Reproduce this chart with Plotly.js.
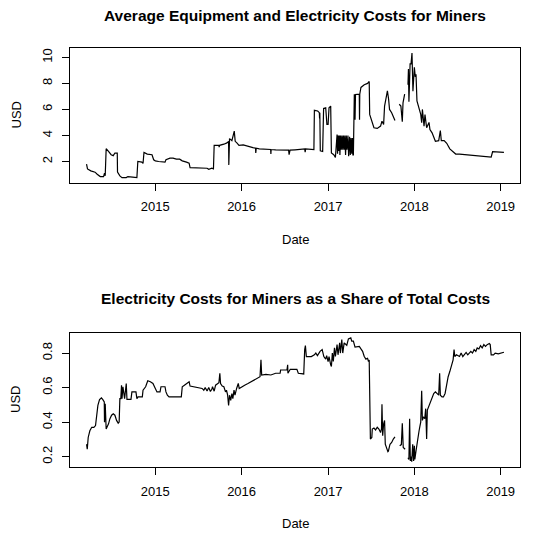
<!DOCTYPE html>
<html>
<head>
<meta charset="utf-8">
<script src="https://cdn.plot.ly/plotly-3.0.1.min.js"></script>
<style>html,body{margin:0;padding:0;background:#fff;}#chart{width:542px;height:535px;}</style>
</head>
<body>
<div id="chart"></div>
<script>
// Panel 1: Average equipment and electricity costs (USD)
var datesTop = [
"2014-03-16","2014-03-20","2014-04-03","2014-04-21","2014-04-30","2014-05-13","2014-05-27","2014-05-31","2014-06-03","2014-06-07",
"2014-06-17","2014-06-28","2014-07-07","2014-07-14","2014-07-24","2014-07-25","2014-08-04","2014-08-13","2014-08-31","2014-09-07",
"2014-09-27","2014-10-15","2014-10-19","2014-11-05","2014-11-10","2014-11-14","2014-11-28","2014-12-18","2014-12-25","2015-01-01",
"2015-01-15","2015-01-28","2015-02-11","2015-02-15","2015-03-04","2015-03-17","2015-03-31","2015-04-14","2015-04-25","2015-05-13",
"2015-05-24","2015-05-28","2015-06-21","2015-07-18","2015-08-08","2015-08-15","2015-08-28","2015-09-04","2015-09-07","2015-09-27",
"2015-09-28","2015-09-30","2015-10-18","2015-10-31","2015-11-07","2015-11-08","2015-11-11","2015-11-21","2015-12-01","2015-12-05",
"2015-12-12","2015-12-21","2016-01-08","2016-01-28","2016-02-18","2016-02-29","2016-03-01","2016-03-03","2016-03-16","2016-05-03",
"2016-05-04","2016-05-05","2016-05-24","2016-07-18","2016-07-20","2016-07-24","2016-08-14","2016-09-24","2016-09-26","2016-09-28",
"2016-11-02","2016-11-04","2016-11-18","2016-11-25","2016-11-26","2016-11-27","2016-11-29","2016-12-09","2016-12-13","2016-12-22",
"2016-12-27","2017-01-01","2017-01-05","2017-01-12","2017-01-15","2017-01-25","2017-02-01","2017-02-08","2017-02-10","2017-02-13",
"2017-02-15","2017-02-18","2017-02-20","2017-02-23","2017-02-26","2017-03-01","2017-03-04","2017-03-07","2017-03-10","2017-03-13",
"2017-03-16","2017-03-19","2017-03-22","2017-03-26","2017-03-29","2017-04-02","2017-04-05","2017-04-08","2017-04-11","2017-04-14",
"2017-04-16","2017-04-18","2017-04-22","2017-04-25","2017-04-27","2017-05-13","2017-05-14","2017-05-15","2017-05-20","2017-06-03",
"2017-06-17","2017-06-24","2017-06-26","2017-07-05","2017-07-14","2017-07-28","2017-08-11","2017-08-17","2017-08-24","2017-08-28",
"2017-09-09","2017-09-14","2017-09-18","2017-09-27","2017-10-11","2017-10-20","2017-10-29","2017-11-05","2017-11-11","2017-11-14",
"2017-11-21","2017-11-28","2017-12-05","2017-12-07","2017-12-09","2017-12-11","2017-12-14","2017-12-18","2017-12-22","2017-12-26",
"2018-01-01","2018-01-05","2018-01-08","2018-01-12","2018-01-21","2018-01-28","2018-02-01","2018-02-04","2018-02-11","2018-02-15",
"2018-02-22","2018-03-04","2018-03-08","2018-03-17","2018-03-31","2018-04-14","2018-04-21","2018-04-25","2018-05-07","2018-05-18",
"2018-05-31","2018-06-14","2018-06-25","2018-07-11","2018-08-15","2018-10-01","2018-10-29","2018-11-22","2018-11-28","2019-01-05",
"2019-01-15"
];
var costTop = [
1.80,1.43,1.28,1.18,1.02,0.84,0.84,1.10,0.90,2.98,
2.78,2.52,2.45,2.65,2.65,1.18,0.89,0.76,0.76,0.84,
0.80,0.76,2.00,1.95,1.85,2.70,2.57,2.52,2.13,2.05,
2.00,1.95,1.95,2.13,2.26,2.26,2.18,2.18,2.05,1.95,
1.87,1.53,1.53,1.53,1.48,1.40,1.48,1.43,3.24,3.24,
3.10,3.24,3.33,3.43,3.55,1.74,3.76,3.60,4.33,3.55,
3.43,3.24,3.28,3.15,3.07,3.02,2.65,3.02,2.97,2.92,
2.57,2.92,2.90,2.87,2.52,2.87,2.90,2.97,2.72,2.97,
2.92,5.93,5.88,5.75,5.30,5.75,2.82,2.77,6.08,6.13,
4.85,4.85,6.13,6.26,2.65,2.52,2.31,4.07,2.60,4.00,
2.80,4.00,2.50,4.00,2.90,4.00,2.90,4.00,2.90,4.00,
2.50,4.00,2.90,4.00,2.40,3.90,2.50,3.80,2.60,3.80,
2.50,2.50,7.17,5.20,7.15,7.17,5.20,7.17,7.69,7.90,
8.00,8.15,5.62,5.10,4.59,4.54,4.72,5.10,4.85,6.26,
7.43,6.80,6.00,5.75,5.15,null,6.40,6.26,5.05,6.50,
7.17,null,7.90,9.10,6.60,8.50,9.50,9.50,10.33,7.40,
9.24,8.50,8.70,6.65,6.13,5.62,4.98,6.00,4.72,5.60,
4.59,5.00,4.46,4.20,3.55,3.60,4.38,3.60,3.60,3.40,
2.97,2.72,2.57,2.57,2.52,2.44,2.39,2.33,2.75,2.72,
2.70
];

// Panel 2: Electricity costs as a share of total costs
var datesBottom = [
"2014-03-16","2014-03-19","2014-03-23","2014-03-30","2014-04-07","2014-04-16","2014-04-23","2014-04-27","2014-05-03","2014-05-10",
"2014-05-18","2014-05-24","2014-05-30","2014-05-31","2014-06-03","2014-06-07","2014-06-11","2014-06-17","2014-06-23","2014-06-30",
"2014-07-07","2014-07-14","2014-07-21","2014-07-28","2014-08-01","2014-08-04","2014-08-08","2014-08-11","2014-08-13","2014-08-17",
"2014-08-24","2014-08-28","2014-08-31","2014-09-03","2014-09-20","2014-09-24","2014-10-11","2014-10-15","2014-10-20","2014-11-07",
"2014-11-10","2014-11-21","2014-11-30","2014-12-11","2014-12-22","2015-01-01","2015-01-08","2015-01-21","2015-01-25","2015-02-11",
"2015-02-15","2015-02-21","2015-02-28","2015-04-21","2015-04-25","2015-05-04","2015-05-18","2015-05-24","2015-05-28","2015-06-13",
"2015-07-04","2015-07-18","2015-07-25","2015-07-31","2015-08-08","2015-08-15","2015-08-22","2015-08-28","2015-08-31","2015-09-07",
"2015-09-13","2015-09-20","2015-09-27","2015-10-01","2015-10-04","2015-10-11","2015-10-18","2015-10-25","2015-10-29","2015-11-03",
"2015-11-07","2015-11-11","2015-11-16","2015-11-21","2015-11-25","2015-11-30","2015-12-04","2015-12-11","2015-12-18","2015-12-22",
"2016-01-01","2016-01-14","2016-01-28","2016-02-11","2016-02-25","2016-03-09","2016-03-19","2016-03-23","2016-03-26","2016-04-13",
"2016-05-04","2016-05-24","2016-06-12","2016-06-14","2016-07-11","2016-07-14","2016-07-15","2016-07-25","2016-08-22","2016-08-28",
"2016-09-20","2016-09-24","2016-09-27","2016-10-01","2016-10-22","2016-11-04","2016-11-10","2016-11-17","2016-11-28","2016-12-07",
"2016-12-14","2016-12-22","2016-12-26","2017-01-01","2017-01-05","2017-01-12","2017-01-15","2017-01-19","2017-01-23","2017-01-28",
"2017-02-01","2017-02-08","2017-02-12","2017-02-19","2017-02-22","2017-02-28","2017-03-04","2017-03-10","2017-03-21","2017-03-28",
"2017-04-07","2017-04-11","2017-04-18","2017-04-25","2017-05-02","2017-05-13","2017-05-20","2017-05-27","2017-06-03","2017-06-10",
"2017-06-17","2017-06-21","2017-06-24","2017-06-26","2017-06-29","2017-07-05","2017-07-07","2017-07-14","2017-07-21","2017-07-28",
"2017-08-04","2017-08-11","2017-08-15","2017-08-17","2017-08-20","2017-08-24","2017-08-28","2017-08-31","2017-09-07","2017-09-11",
"2017-09-13","2017-09-20","2017-09-27","2017-10-04","2017-10-11","2017-10-20","2017-10-31","2017-11-07","2017-11-11","2017-11-12",
"2017-11-15","2017-11-23","2017-11-28","2017-12-05","2017-12-09","2017-12-12","2017-12-15","2017-12-19","2017-12-21","2017-12-25",
"2017-12-29","2018-01-01","2018-01-03","2018-01-08","2018-01-14","2018-01-21","2018-01-25","2018-01-28","2018-02-01","2018-02-04",
"2018-02-08","2018-02-14","2018-02-18","2018-02-22","2018-02-25","2018-03-04","2018-03-10","2018-03-17","2018-03-24","2018-03-31",
"2018-04-07","2018-04-14","2018-04-18","2018-04-21","2018-04-28","2018-05-04","2018-05-11","2018-05-18","2018-05-24","2018-05-31",
"2018-06-07","2018-06-14","2018-06-18","2018-06-21","2018-06-28","2018-07-11","2018-07-18","2018-07-25","2018-08-08","2018-08-15",
"2018-08-28","2018-09-04","2018-09-11","2018-09-18","2018-09-24","2018-10-01","2018-10-08","2018-10-15","2018-10-22","2018-10-29",
"2018-11-05","2018-11-14","2018-11-18","2018-11-22","2018-12-02","2018-12-09","2018-12-22","2019-01-05","2019-01-15"
];
var shareBottom = [
0.272,0.243,0.311,0.350,0.370,0.370,0.380,0.448,0.497,0.530,
0.540,0.530,0.517,0.400,0.507,0.360,0.370,0.390,0.420,0.440,
0.448,0.440,0.410,0.394,0.400,0.536,0.536,0.614,0.536,0.605,
0.536,0.624,0.624,0.532,0.532,0.575,0.575,0.536,0.546,0.546,
0.585,0.605,0.640,0.634,0.624,0.595,0.575,0.575,0.605,0.605,
0.575,0.556,0.546,0.546,0.605,0.614,0.628,0.634,0.609,0.605,
0.600,0.595,0.585,0.600,0.580,0.600,0.578,0.590,0.605,0.579,
0.614,0.624,0.628,0.683,0.624,0.609,0.605,0.575,0.585,0.556,
0.497,0.556,0.526,0.565,0.536,0.585,0.556,0.595,0.624,0.595,
0.605,0.614,0.624,0.634,0.644,0.653,0.663,0.761,0.673,0.677,
0.673,0.683,0.683,0.702,0.702,0.732,0.683,0.706,0.706,0.683,
0.679,0.820,0.843,0.780,0.780,0.790,0.800,0.785,0.810,0.820,
0.780,0.765,0.785,0.751,0.780,0.732,0.722,0.800,0.751,0.830,
0.780,0.849,0.790,0.859,0.800,0.878,0.800,0.859,0.845,0.882,
0.888,0.869,0.869,0.835,0.835,0.839,0.824,0.810,0.780,0.765,
0.770,0.751,0.760,0.390,0.302,0.311,0.360,0.366,0.355,0.370,
0.360,0.340,0.360,0.503,0.321,0.390,0.410,0.272,0.243,0.229,
0.232,0.272,0.282,0.302,0.315,null,0.263,0.270,0.394,0.260,
0.253,0.243,null,0.194,0.184,0.420,0.175,0.200,0.171,0.272,
0.175,0.263,0.184,0.233,0.302,0.350,0.380,0.400,0.581,0.410,
0.430,0.420,0.478,0.302,0.470,0.497,0.517,0.536,0.566,0.575,
0.566,0.556,0.683,0.556,0.546,0.546,0.566,0.624,0.663,0.693,
0.722,0.761,0.820,0.780,0.790,0.780,0.800,0.780,0.804,0.790,
0.810,0.800,0.820,0.810,0.830,0.824,0.843,0.830,0.849,0.839,
0.849,0.855,0.849,0.790,0.790,0.800,0.796,0.800,0.805
];

var yearTicks = ["2015-01-01","2016-01-01","2017-01-01","2018-01-01","2019-01-01"];
var yearLabels = ["2015","2016","2017","2018","2019"];
var topTicks = [2,4,6,8,10];
var bottomTicks = [0.2,0.4,0.6,0.8];
var bottomTickLabels = ["0.2","0.4","0.6","0.8"];

var FONT = "Liberation Sans, Arial, Helvetica, sans-serif";

var traces = [
  {x: datesTop, y: costTop, type: "scatter", mode: "lines", xaxis: "x", yaxis: "y",
   line: {color: "#000000", width: 1.2}, connectgaps: false, hoverinfo: "x+y"},
  {x: datesBottom, y: shareBottom, type: "scatter", mode: "lines", xaxis: "x2", yaxis: "y2",
   line: {color: "#000000", width: 1.2}, connectgaps: false, hoverinfo: "x+y"}
];

function xAxis(anchor) {
  return {
    type: "date", anchor: anchor, domain: [0, 1],
    range: ["2014-01-05", "2019-03-24"],
    tickmode: "array", tickvals: yearTicks, ticktext: yearLabels,
    ticks: "outside", ticklen: 7, tickwidth: 1, tickcolor: "#000",
    ticklabelstandoff: 5,
    showline: true, mirror: true, linecolor: "#000", linewidth: 1,
    showgrid: false, zeroline: false,
    tickfont: {family: FONT, size: 13, color: "#000"}
  };
}
function yAxis(anchor, domain, range, vals, texts) {
  return {
    anchor: anchor, domain: domain, range: range,
    tickmode: "array", tickvals: vals, ticktext: texts,
    ticks: "outside", ticklen: 7, tickwidth: 1, tickcolor: "#000",
    tickangle: -90, ticklabelstandoff: 5,
    showline: true, mirror: true, linecolor: "#000", linewidth: 1,
    showgrid: false, zeroline: false,
    tickfont: {family: FONT, size: 13, color: "#000"}
  };
}

var layout = {
  width: 542, height: 535,
  margin: {l: 70, r: 22, t: 48, b: 68, pad: 0},
  paper_bgcolor: "#fff", plot_bgcolor: "#fff",
  showlegend: false,
  font: {family: FONT, size: 13, color: "#000"},
  xaxis: xAxis("y"),
  yaxis: yAxis("x", [0.6785, 1], [0.37, 10.72], topTicks, topTicks.map(String)),
  xaxis2: xAxis("y2"),
  yaxis2: yAxis("x2", [0, 0.3205], [0.14, 0.918], bottomTicks, bottomTickLabels),
  annotations: [
    {text: "<b>Average Equipment and Electricity Costs for Miners</b>", xref: "paper", yref: "paper",
     x: 0.5, y: 1.0771, xanchor: "center", yanchor: "middle", showarrow: false,
     font: {family: FONT, size: 15.5, color: "#000"}},
    {text: "<b>Electricity Costs for Miners as a Share of Total Costs</b>", xref: "paper", yref: "paper",
     x: 0.5, y: 0.4026, xanchor: "center", yanchor: "middle", showarrow: false,
     font: {family: FONT, size: 15.5, color: "#000"}},
    {text: "Date", xref: "paper", yref: "paper", x: 0.5, y: 0.5418, xanchor: "center", yanchor: "middle",
     showarrow: false, font: {family: FONT, size: 13, color: "#000"}},
    {text: "Date", xref: "paper", yref: "paper", x: 0.5, y: -0.1337, xanchor: "center", yanchor: "middle",
     showarrow: false, font: {family: FONT, size: 13, color: "#000"}},
    {text: "USD", xref: "paper", yref: "paper", x: -0.12, y: 0.839, xanchor: "center", yanchor: "middle",
     textangle: -90, showarrow: false, font: {family: FONT, size: 13, color: "#000"}},
    {text: "USD", xref: "paper", yref: "paper", x: -0.12, y: 0.16, xanchor: "center", yanchor: "middle",
     textangle: -90, showarrow: false, font: {family: FONT, size: 13, color: "#000"}}
  ]
};

Plotly.newPlot("chart", traces, layout, {staticPlot: true, displayModeBar: false});
</script>
</body>
</html>
